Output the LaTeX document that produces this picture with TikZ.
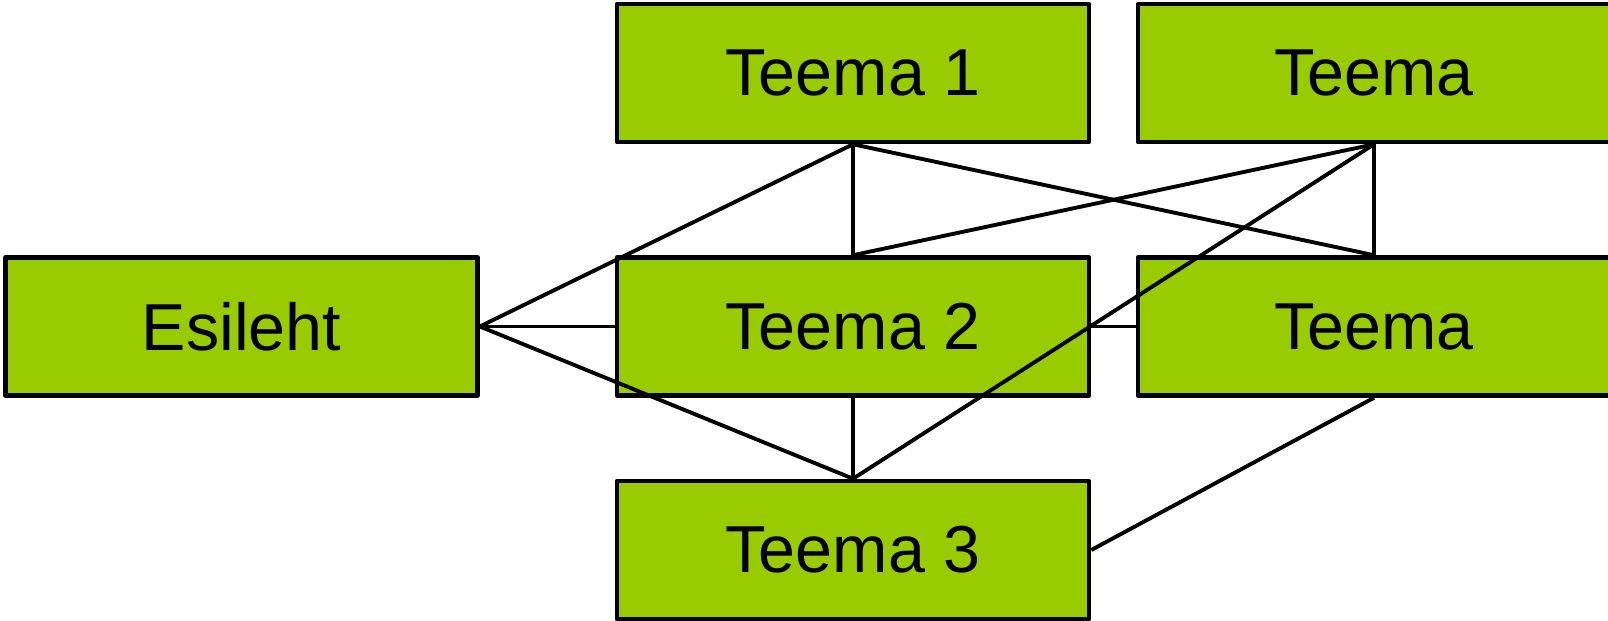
\documentclass[tikz,border=0pt]{standalone}
\usepackage{fontspec}
\setmainfont{Liberation Sans}
\usepackage{tikz}
\definecolor{lehtroheline}{HTML}{99CC00}
\tikzset{
	teemakast/.style={draw=black, line width=1.3pt, line join=round, fill=lehtroheline, minimum width=4.72cm, minimum height=1.38cm, inner sep=0pt, font=\fontsize{18.9}{22}\selectfont},
	seos/.style={line width=1.1pt}
}

\begin{document}
\begin{tikzpicture}
		%%%%% START %%%%%
		\useasboundingbox (0, 0) rectangle (16.08, 6.21);
		\clip (0, 0) rectangle (16.08, 6.21);
		
		\node[teemakast] (esileht) at (2.415, 2.945) {Esileht};
		\node[teemakast] (teema1) at (8.53, 5.48) {Teema 1};
		\node[teemakast] (teemaA) at (13.74, 5.48) {Teema};
		\node[teemakast] (teema2) at (8.53, 2.945) {Teema 2};
		\node[teemakast] (teemaB) at (13.74, 2.945) {Teema};
		\node[teemakast] (teema3) at (8.53, 0.71) {Teema 3};
		
		\draw[seos] (esileht.east) -- (teema1.south);
		\draw[seos] (esileht.east) -- (teema2.west);
		\draw[seos] (esileht.east) -- (teema3.north);
		
		\draw[seos] (teema1.south) -- (teema2.north);
		\draw[seos] (teema1.south) -- (teemaB.north);
		
		\draw[seos] (teemaA.south) -- (teema2.north);
		\draw[seos] (teemaA.south) -- (teemaB.north);
		\draw[seos] (teemaA.south) -- (teema3.north);
		
		\draw[seos] (teema2.south) -- (teema3.north);
		\draw[seos] (teema2.east) -- (teemaB.west);
		\draw[seos] (teemaB.south) -- (teema3.east);
		%%%%% END %%%%%
	\end{tikzpicture}
\end{document}
